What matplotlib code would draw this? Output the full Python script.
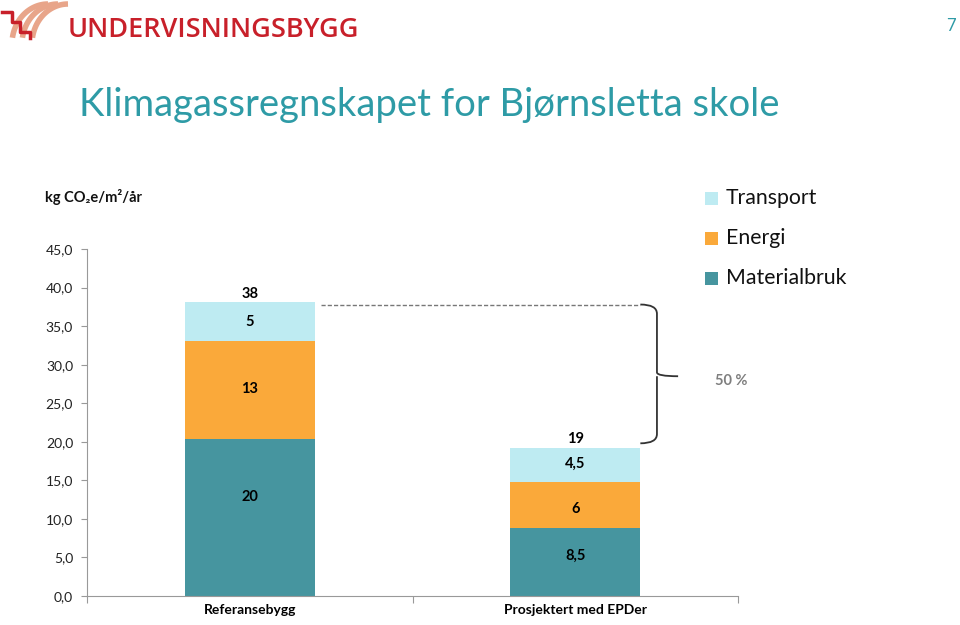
import matplotlib
matplotlib.use("Agg")
import matplotlib.pyplot as plt
from matplotlib.patches import Rectangle, PathPatch
from matplotlib.path import Path
import numpy as np

plt.rcParams['font.family'] = ['Lato', 'DejaVu Sans']

categories = ["Referansebygg", "Prosjektert med EPDer"]
series_names = ["Materialbruk", "Energi", "Transport"]
materialbruk = [20.3, 8.8]
energi = [12.8, 6.0]
transport = [5.0, 4.4]
materialbruk_labels = ["20", "8,5"]
energi_labels = ["13", "6"]
transport_labels = ["5", "4,5"]
total_labels = ["38", "19"]
yticks = [0, 5, 10, 15, 20, 25, 30, 35, 40, 45]
ytick_labels = ["0,0", "5,0", "10,0", "15,0", "20,0", "25,0", "30,0", "35,0", "40,0", "45,0"]
reduction_label = "50 %"

colors = {"Materialbruk": "#46959F", "Energi": "#FAA93A", "Transport": "#BEEBF2"}
teal_text = "#2E9BA6"

W, H = 960, 625
fig = plt.figure(figsize=(W / 100, H / 100), dpi=100)

def fx(px):
    return px / W

def fy(py):
    return 1 - py / H

ax = fig.add_axes([fx(87), fy(596), fx(738) - fx(87), fy(249) - fy(596)])
x = np.arange(len(categories))
width = 0.4
ax.bar(x, materialbruk, width, color=colors["Materialbruk"], zorder=2)
bottom2 = np.array(materialbruk)
ax.bar(x, energi, width, bottom=bottom2, color=colors["Energi"], zorder=2)
bottom3 = bottom2 + np.array(energi)
ax.bar(x, transport, width, bottom=bottom3, color=colors["Transport"], zorder=2)
totals = bottom3 + np.array(transport)

mat_off = [2.7, 0.8]
ene_off = [0.1, -0.5]
tra_off = [-0.1, 0.1]
for i in range(len(categories)):
    ax.text(x[i], materialbruk[i] / 2 + mat_off[i], materialbruk_labels[i],
            ha="center", va="center", fontsize=10.5, fontweight="bold", color="black")
    ax.text(x[i], bottom2[i] + energi[i] / 2 + ene_off[i], energi_labels[i],
            ha="center", va="center", fontsize=10.5, fontweight="bold", color="black")
    ax.text(x[i], bottom3[i] + transport[i] / 2 + tra_off[i], transport_labels[i],
            ha="center", va="center", fontsize=10.5, fontweight="bold", color="black")
    ax.text(x[i], totals[i] + 1.1, total_labels[i],
            ha="center", va="center", fontsize=10.5, fontweight="bold", color="black")

ax.set_xlim(-0.5, 1.5)
ax.set_ylim(0, 45)
ax.set_yticks(yticks)
ax.set_yticklabels(ytick_labels, fontsize=10, color="#222222")
ax.set_xticks([-0.5, 0.5, 1.5], minor=False)
ax.set_xticklabels(["", "", ""])
ax.set_xticks(x, minor=True)
ax.set_xticklabels(categories, minor=True, fontsize=10, fontweight="bold")
ax.tick_params(axis="x", which="minor", length=0, pad=6)
ax.tick_params(axis="x", which="major", length=5, color="#999999", direction="out")
ax.tick_params(axis="y", length=4, color="#999999", direction="out", pad=6)
for s in ["top", "right"]:
    ax.spines[s].set_visible(False)
ax.spines["left"].set_color("#999999")
ax.spines["bottom"].set_color("#999999")

# dashed reference line
ax.plot([x[0] + width / 2 + 0.02, 1.2], [totals[0] - 0.3, totals[0] - 0.3],
        linestyle=(0, (3, 1.5)), color="#777777", linewidth=1, zorder=3, clip_on=False)

# curly brace
y_top = totals[0] - 0.3
y_bot = totals[1] + 0.6
y_mid = 28.5
xs, xv, xt = 1.2, 1.251, 1.316
brace = Path([
    (xs, y_top), (xv, y_top), (xv, y_top - 1.2),
    (xv, y_mid + 0.5),
    (xv, y_mid), (xt, y_mid),
    (xv, y_mid), (xv, y_mid - 0.5),
    (xv, y_bot + 1.2),
    (xv, y_bot), (xs, y_bot),
], [Path.MOVETO, Path.CURVE3, Path.CURVE3,
    Path.LINETO,
    Path.CURVE3, Path.CURVE3,
    Path.MOVETO, Path.LINETO,
    Path.LINETO,
    Path.CURVE3, Path.CURVE3])
ax.add_patch(PathPatch(brace, facecolor="none", edgecolor="#333333", linewidth=1.3, clip_on=False))
ax.text(1.48, 27.9, reduction_label, ha="center", va="center", fontsize=10.5,
        fontweight="bold", color="#7F7F7F")

# legend
leg_items = [("Transport", 198), ("Energi", 238), ("Materialbruk", 278)]
for name, py in leg_items:
    fig.patches.append(Rectangle((fx(705), fy(py + 7)), fx(13), fy(py - 6) - fy(py + 7),
                                 transform=fig.transFigure, facecolor=colors[name],
                                 edgecolor="none"))
    fig.text(fx(726), fy(py), name, ha="left", va="center", fontsize=15.3, color="#111111")

# y-axis unit label
fig.text(fx(45), fy(197), "kg CO₂e/m²/år", ha="left", va="center", fontsize=10.5,
         fontweight="bold", color="#111111")

# title
fig.text(fx(79), fy(105), "Klimagassregnskapet for Bjørnsletta skole", ha="left",
         va="center", fontsize=27.5, color=teal_text)

# page number
fig.text(fx(951), fy(26), "7", ha="center", va="center", fontsize=12, color=teal_text)

# logo
lax = fig.add_axes([0, fy(44), fx(70), fy(0) - fy(44)])
lax.set_xlim(0, 70)
lax.set_ylim(44, 0)
lax.axis("off")
for cx in [48, 58, 68]:
    t = np.linspace(np.pi * 1.05, np.pi * 1.5, 40)
    xx = cx + 40 * np.cos(t) * 0.9
    yy = 44 + 40 * np.sin(t)
    lax.plot(xx, yy, color="#E8A58A", linewidth=4, solid_capstyle="butt")
lax.plot([2, 12, 12, 20, 20, 30, 30], [12, 12, 22, 22, 32, 32, 38], color="#C8202A", linewidth=2.5)
fig.text(fx(68), fy(37), "UNDERVISNINGSBYGG", ha="left", va="baseline", fontsize=19.5,
         fontweight="semibold", color="#C8202A", family=["Open Sans", "DejaVu Sans"])

fig.savefig("out.png", dpi=100)
